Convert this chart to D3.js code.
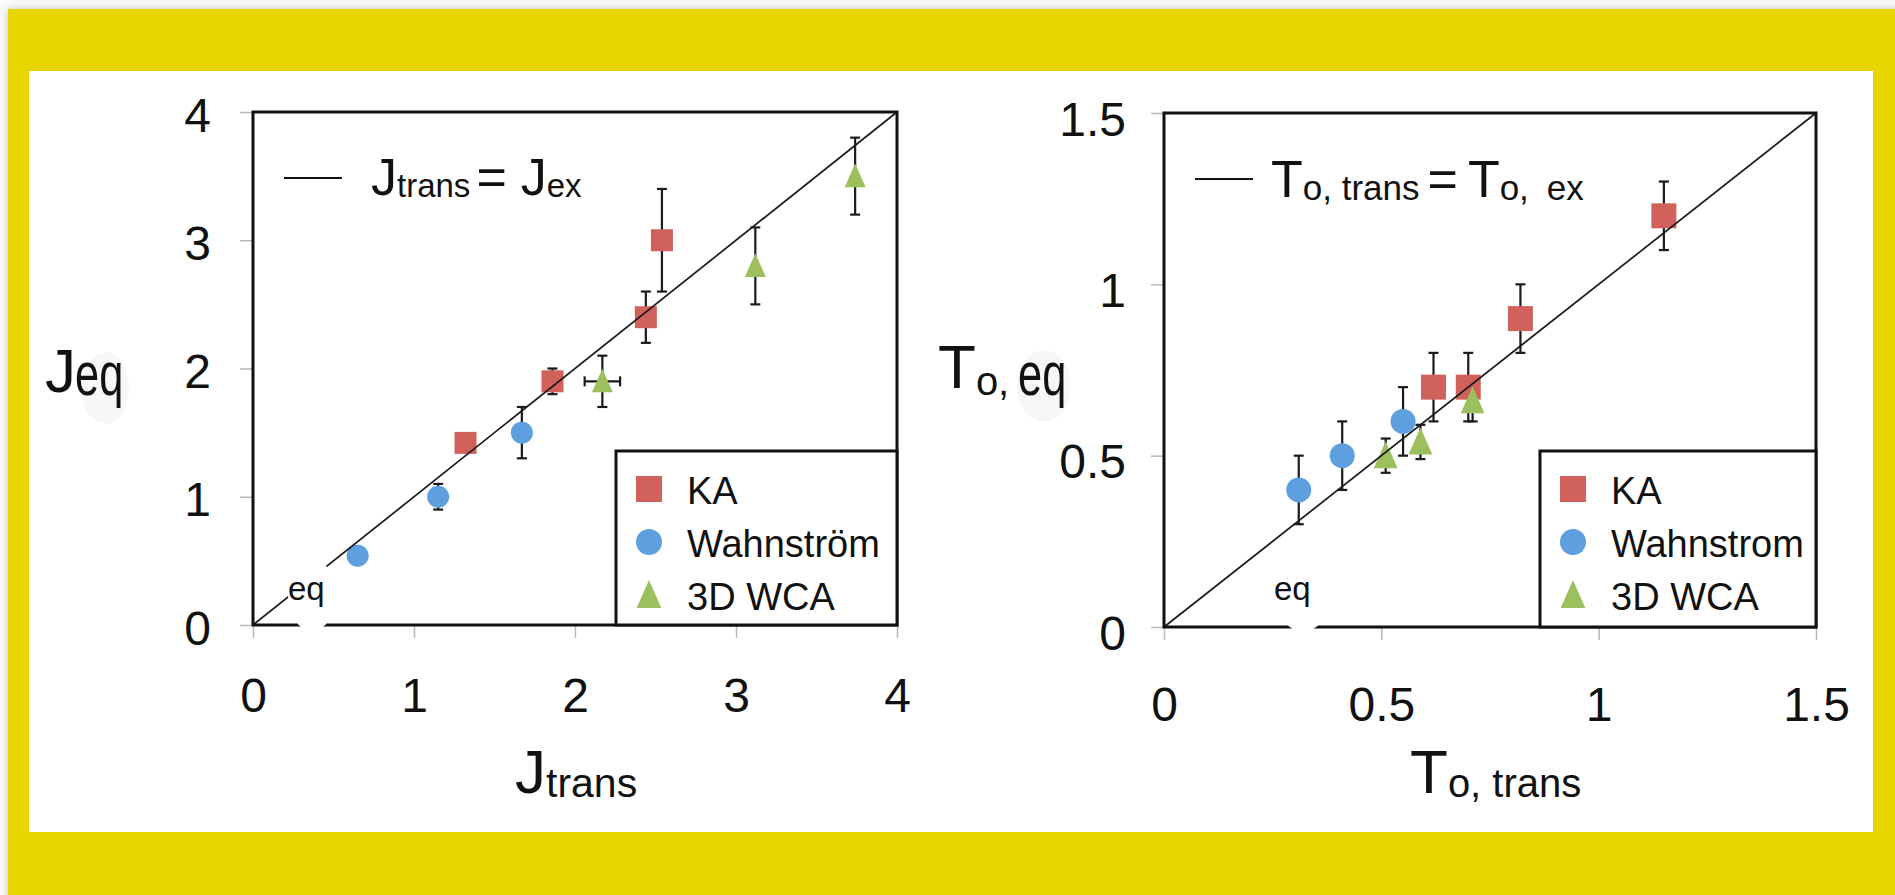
<!DOCTYPE html>
<html>
<head>
<meta charset="utf-8">
<script src="https://cdn.jsdelivr.net/npm/d3@7"></script>
<style>
  body { margin: 0; background: #fbfbfb; overflow: hidden; }
  text { font-family: "Liberation Sans", Arial, Helvetica, sans-serif; fill: #111; }
</style>
</head>
<body>
<svg id="chart" width="1895" height="895"></svg>
<script>
// tick values
const jTicks = [0, 1, 2, 3, 4];
const tTicks = [0, 0.5, 1, 1.5];

// legend names
const namesLeft = ["KA", "Wahnström", "3D WCA"];
const namesRight = ["KA", "Wahnstrom", "3D WCA"];

// left panel: J_trans (x) vs J_eq (y)
const jKaX = [1.32, 1.86, 2.44, 2.54];
const jKaY = [1.42, 1.90, 2.40, 3.00];
const jKaErr = [0, 0.1, 0.2, 0.4];
const jWahX = [0.65, 1.15, 1.67];
const jWahY = [0.54, 1.00, 1.50];
const jWahErr = [0, 0.1, 0.2];
const jWcaX = [2.17, 3.12, 3.74];
const jWcaY = [1.90, 2.80, 3.50];
const jWcaErr = [0.2, 0.3, 0.3];
const jWcaXErr = [0.11, 0, 0];

// right panel: T_o,trans (x) vs T_o,eq (y)
const tKaX = [0.62, 0.70, 0.82, 1.15];
const tKaY = [0.70, 0.70, 0.90, 1.20];
const tKaErr = [0.1, 0.1, 0.1, 0.1];
const tWahX = [0.31, 0.41, 0.55];
const tWahY = [0.40, 0.50, 0.60];
const tWahErr = [0.1, 0.1, 0.1];
const tWcaX = [0.51, 0.59, 0.71];
const tWcaY = [0.50, 0.54, 0.66];
const tWcaErr = [0.05, 0.05, 0.06];

const colors = ["#d1615b", "#5e9fe0", "#9dc05e"];
const shapes = ["square", "circle", "triangle"];

const svg = d3.select("#chart");

// background frame
svg.append("defs").append("filter")
    .attr("id", "shadow")
    .attr("x", "-2%").attr("y", "-2%").attr("width", "104%").attr("height", "104%")
    .append("feDropShadow")
    .attr("dx", 0).attr("dy", 0)
    .attr("stdDeviation", 4)
    .attr("flood-color", "#000")
    .attr("flood-opacity", 0.22);

svg.append("rect")
    .attr("x", 8).attr("y", 9).attr("width", 1900).attr("height", 900)
    .attr("fill", "#e8d602")
    .attr("filter", "url(#shadow)");

svg.append("rect")
    .attr("x", 29).attr("y", 71).attr("width", 1844).attr("height", 761)
    .attr("fill", "#fff");

function markerPath(shape, s) {
    const h = s / 2;
    if (shape === "square") return `M${-h},${-h}H${h}V${h}H${-h}Z`;
    if (shape === "circle") return d3.symbol(d3.symbolCircle, Math.PI * h * h)();
    return `M0,${-h * 1.15}L${h * 0.95},${h}L${-h * 0.95},${h}Z`;
}

function drawPanel(o) {
    const x = d3.scaleLinear().domain(o.domain).range([o.left, o.right]);
    const y = d3.scaleLinear().domain(o.domain).range([o.bottom, o.top]);
    const g = svg.append("g");
    const fmt = d3.format("~g");

    // y ticks
    const ya = g.append("g")
        .attr("transform", `translate(${o.left},0)`)
        .call(d3.axisLeft(y).tickValues(o.ticks).tickSize(13).tickFormat(fmt));
    ya.attr("font-family", null).attr("font-size", null);
    ya.select(".domain").remove();
    ya.selectAll("line").attr("stroke", "#b8b8b8").attr("stroke-width", 1.5);
    ya.selectAll("text")
        .attr("font-size", 48)
        .attr("fill", "#111")
        .attr("x", -o.yLabelGap)
        .attr("dy", o.yLabelDy);

    // x ticks
    const xa = g.append("g")
        .attr("transform", `translate(0,${o.bottom})`)
        .call(d3.axisBottom(x).tickValues(o.ticks).tickSize(13).tickFormat(fmt));
    xa.attr("font-family", null).attr("font-size", null);
    xa.select(".domain").remove();
    xa.selectAll("line").attr("stroke", "#b8b8b8").attr("stroke-width", 1.5);
    xa.selectAll("text")
        .attr("font-size", 48)
        .attr("fill", "#111")
        .attr("y", o.xLabelBase)
        .attr("dy", 0);

    // error bars
    o.series.forEach((s, si) => {
        const pts = s.x.map((v, i) => ({ x: v, y: s.y[i], e: s.err[i], xe: s.xerr ? s.xerr[i] : 0 }));
        const eg = g.append("g").attr("stroke", "#1a1a1a").attr("stroke-width", 2.2);
        pts.filter(d => d.e > 0).forEach(d => {
            eg.append("line")
                .attr("x1", x(d.x)).attr("x2", x(d.x))
                .attr("y1", y(d.y - d.e)).attr("y2", y(d.y + d.e));
            [d.y - d.e, d.y + d.e].forEach(v => {
                eg.append("line")
                    .attr("x1", x(d.x) - 5).attr("x2", x(d.x) + 5)
                    .attr("y1", y(v)).attr("y2", y(v));
            });
        });
        pts.filter(d => d.xe > 0).forEach(d => {
            eg.append("line")
                .attr("x1", x(d.x - d.xe)).attr("x2", x(d.x + d.xe))
                .attr("y1", y(d.y)).attr("y2", y(d.y));
            [d.x - d.xe, d.x + d.xe].forEach(v => {
                eg.append("line")
                    .attr("x1", x(v)).attr("x2", x(v))
                    .attr("y1", y(d.y) - 5).attr("y2", y(d.y) + 5);
            });
        });
    });

    // markers
    o.series.forEach((s, si) => {
        g.append("g").selectAll("path")
            .data(s.x.map((v, i) => [v, s.y[i]]))
            .join("path")
            .attr("transform", d => `translate(${x(d[0])},${y(d[1])})`)
            .attr("d", markerPath(shapes[si], o.markerSize))
            .attr("fill", colors[si]);
    });

    // identity line
    g.append("line")
        .attr("x1", x(o.domain[0])).attr("y1", y(o.domain[0]))
        .attr("x2", x(o.domain[1])).attr("y2", y(o.domain[1]))
        .attr("stroke", "#1a1a1a")
        .attr("stroke-width", 1.7);

    // frame
    g.append("rect")
        .attr("x", o.left).attr("y", o.top)
        .attr("width", o.right - o.left).attr("height", o.bottom - o.top)
        .attr("fill", "none")
        .attr("stroke", "#111")
        .attr("stroke-width", 3);

    // legend box for series
    g.append("rect")
        .attr("x", o.legendX).attr("y", o.legendY)
        .attr("width", o.right - o.legendX).attr("height", o.bottom - o.legendY)
        .attr("fill", "#fff")
        .attr("stroke", "#111")
        .attr("stroke-width", 3);

    o.names.forEach((name, i) => {
        const ry = o.legendY + 38 + i * 53;
        g.append("path")
            .attr("transform", `translate(${o.legendX + 33},${ry})`)
            .attr("d", markerPath(shapes[i], 26))
            .attr("fill", colors[i]);
        g.append("text")
            .attr("x", o.legendX + 71)
            .attr("y", ry + 15)
            .attr("font-size", 38)
            .text(name);
    });

    // identity line legend
    g.append("line")
        .attr("x1", o.left + 31).attr("x2", o.left + 89)
        .attr("y1", o.top + 66).attr("y2", o.top + 66)
        .attr("stroke", "#111")
        .attr("stroke-width", 2);

    return { x, y, g };
}

// left panel
const left = drawPanel({
    left: 253, right: 897, top: 112, bottom: 625,
    domain: [0, 4], ticks: jTicks,
    yLabelGap: 42, yLabelDy: 19, xLabelBase: 87,
    markerSize: 22,
    legendX: 616, legendY: 451,
    names: namesLeft,
    series: [
        { x: jKaX, y: jKaY, err: jKaErr },
        { x: jWahX, y: jWahY, err: jWahErr },
        { x: jWcaX, y: jWcaY, err: jWcaErr, xerr: jWcaXErr }
    ]
});

// right panel
const right = drawPanel({
    left: 1164, right: 1816, top: 113, bottom: 627,
    domain: [0, 1.5], ticks: tTicks,
    yLabelGap: 38, yLabelDy: 22, xLabelBase: 94,
    markerSize: 25,
    legendX: 1540, legendY: 451,
    names: namesRight,
    series: [
        { x: tKaX, y: tKaY, err: tKaErr },
        { x: tWahX, y: tWahY, err: tWahErr },
        { x: tWcaX, y: tWcaY, err: tWcaErr }
    ]
});

// formula legends
const f1 = svg.append("text").attr("x", 371).attr("y", 195);
f1.append("tspan").attr("font-size", 52).text("J");
f1.append("tspan").attr("font-size", 33).attr("dy", 2).text("trans");
f1.append("tspan").attr("font-size", 52).attr("dy", -2).attr("dx", 6).text("=");
f1.append("tspan").attr("font-size", 52).attr("dx", 14).text("J");
f1.append("tspan").attr("font-size", 33).attr("dy", 2).text("ex");

const f2 = svg.append("text").attr("x", 1271).attr("y", 197);
f2.append("tspan").attr("font-size", 52).text("T");
f2.append("tspan").attr("font-size", 35).attr("dy", 3).text("o, trans");
f2.append("tspan").attr("font-size", 52).attr("dy", -3).attr("dx", 8).text("=");
f2.append("tspan").attr("font-size", 52).attr("dx", 10).text("T");
f2.append("tspan").attr("font-size", 35).attr("dy", 3).text("o,");
f2.append("tspan").attr("font-size", 35).attr("dx", 18).text("ex");

// axis titles
const xt1 = svg.append("text").attr("x", 515).attr("y", 793);
xt1.append("tspan").attr("font-size", 62).text("J");
xt1.append("tspan").attr("font-size", 41).attr("dy", 4).text("trans");

const xt2 = svg.append("text").attr("x", 1410).attr("y", 793);
xt2.append("tspan").attr("font-size", 62).text("T");
xt2.append("tspan").attr("font-size", 40).attr("dy", 4).text("o, trans");

// faint patches behind the y titles
svg.append("ellipse").attr("cx", 105).attr("cy", 388).attr("rx", 24).attr("ry", 36).attr("fill", "#f7f7fa");
svg.append("ellipse").attr("cx", 1044).attr("cy", 386).attr("rx", 27).attr("ry", 36).attr("fill", "#f7f7fa");

svg.append("text").attr("x", 45).attr("y", 392).attr("font-size", 62).text("J");
svg.append("text")
    .attr("transform", "translate(75,395) scale(0.7,1)")
    .attr("font-size", 62).text("eq");

const yt2 = svg.append("text").attr("x", 938).attr("y", 388);
yt2.append("tspan").attr("font-size", 62).text("T");
yt2.append("tspan").attr("font-size", 40).attr("dy", 7).text("o,");
svg.append("text")
    .attr("transform", "translate(1018,395) scale(0.7,1)")
    .attr("font-size", 62).text("eq");

// stray "eq" labels on white patches inside the plots
svg.append("ellipse").attr("cx", 312).attr("cy", 595).attr("rx", 24).attr("ry", 36).attr("fill", "#fff");
svg.append("text").attr("x", 288).attr("y", 600).attr("font-size", 33).text("eq");
svg.append("ellipse").attr("cx", 1303).attr("cy", 596).attr("rx", 26).attr("ry", 36).attr("fill", "#fff");
svg.append("text").attr("x", 1274).attr("y", 600).attr("font-size", 33).text("eq");
</script>
</body>
</html>
